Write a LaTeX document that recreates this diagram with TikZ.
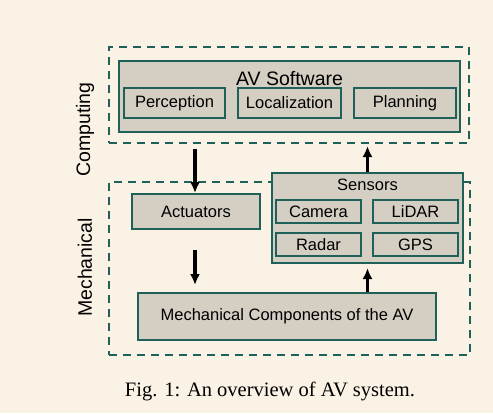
\documentclass[tikz,border=0pt]{standalone}
\usepackage{fontspec}
\setmainfont{Liberation Sans}
\newfontfamily\capfont{Liberation Serif}
\usetikzlibrary{positioning}
\usetikzlibrary{arrows.meta}
\definecolor{paper}{HTML}{FAF2E4}
\definecolor{boxfill}{HTML}{D5CFC3}
\definecolor{teal}{HTML}{1F6058}

\begin{document}
\begin{tikzpicture}[
        x=1pt, y=-1pt,
        node distance= 11pt and 11pt,
        box/.style={draw=teal, fill=boxfill, line width=2pt, inner sep=0pt, font=\fontsize{16.5}{19}\selectfont},
        group/.style={draw=teal, line width=2pt, dash pattern=on 8pt off 6pt, inner sep=0pt},
        side/.style={rotate=90, font=\fontsize{19.5}{23}\selectfont},
        arrow/.style={line width=3.2pt, -{Latex[width=10pt, length=11pt]}}
    ]
        \useasboundingbox[fill=paper] (0,0) rectangle (493,413);

        % groups
        \node[group, minimum width=360pt, minimum height=96pt] (comp) at (289,95) {};
        \node[group, minimum width=361pt, minimum height=173pt] (mech) at (289.5,268.5) {};
        \node[side] (compl) at (85,129.5) {Computing};
        \node[side] (mechl) at (85,267.5) {Mechanical};

        % computing part
        \node[box, minimum width=341pt, minimum height=71pt] (sw) at (289.5,96.5) {};
        \node[font=\fontsize{19.5}{23}\selectfont] (swt) at (289.5,79) {AV Software};
        \node[box, minimum width=103pt, minimum height=30pt] (n1) at (289.5,103) {Localization};
        \node[box, minimum width=101pt, minimum height=30pt, left = of n1] (n0) {Perception};
        \node[box, minimum width=102pt, minimum height=30pt, right = of n1] (n2) {Planning};

        % mechanical part
        \node[box, minimum width=191pt, minimum height=90pt] (sens) at (367.5,218) {};
        \node[font=\fontsize{16.5}{19}\selectfont] (senst) at (367.5,184.5) {Sensors};
        \node[box, minimum width=85pt, minimum height=23pt] (s0) at (318.5,211.5) {Camera};
        \node[box, minimum width=85pt, minimum height=23pt, right = 10pt of s0] (s1) {LiDAR};
        \node[box, minimum width=85pt, minimum height=23pt, below = 8pt of s0] (s2) {Radar};
        \node[box, minimum width=85pt, minimum height=23pt, below = 8pt of s1] (s3) {GPS};
        \node[box, minimum width=128pt, minimum height=35pt] (act) at (196,211.5) {Actuators};
        \node[box, minimum width=298pt, minimum height=47pt] (mc) at (287,316.5) {Mechanical Components of the AV};

        \draw[arrow, shorten <=5pt] (comp.south -| 195,0) -- (act.north -| 195,0);
        \draw[arrow, shorten <=20pt, shorten >=7pt] (act.south -| 195,0) -- (mc.north -| 195,0);
        \draw[arrow, shorten >=4pt] (mc.north -| sens) -- (sens.south);
        \draw[arrow, shorten >=2pt] (sens.north) -- (comp.south -| sens);

        \node[font=\capfont\fontsize{20.5}{24}\selectfont] (cap) at (270,391) {Fig. 1: An overview of AV system.};
    \end{tikzpicture}
\end{document}
